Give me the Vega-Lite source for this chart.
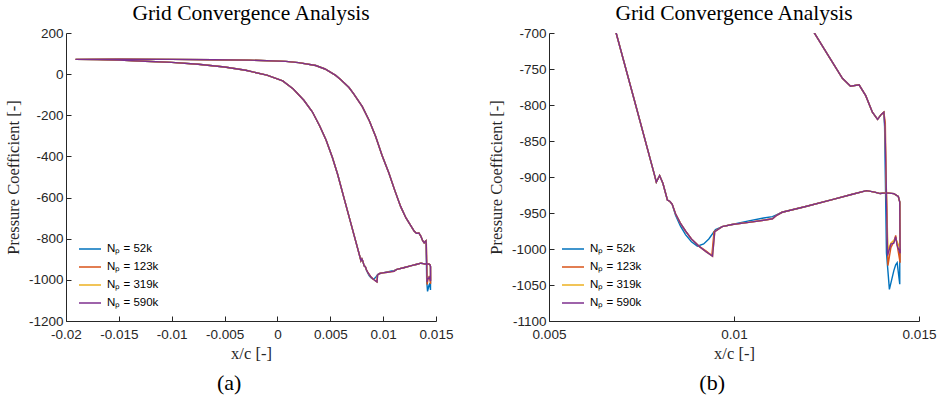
{
  "$schema": "https://vega.github.io/schema/vega-lite/v6.json",
  "background": "white",
  "padding": {"left": 5, "top": 2, "right": 5, "bottom": 5},
  "datasets": {
    "cp": [
      {"s":"Nₚ = 52k","i":1,"x":-0.0191,"y":72},{"s":"Nₚ = 52k","i":2,"x":-0.017,"y":70.5},{"s":"Nₚ = 52k","i":3,"x":-0.015,"y":68},{"s":"Nₚ = 52k","i":4,"x":-0.0125,"y":63},{"s":"Nₚ = 52k","i":5,"x":-0.01,"y":57},{"s":"Nₚ = 52k","i":6,"x":-0.0075,"y":48},{"s":"Nₚ = 52k","i":7,"x":-0.005,"y":35},{"s":"Nₚ = 52k","i":8,"x":-0.003,"y":19},{"s":"Nₚ = 52k","i":9,"x":-0.001,"y":-5},{"s":"Nₚ = 52k","i":10,"x":0.0005,"y":-33},
      {"s":"Nₚ = 52k","i":11,"x":0.0015,"y":-72},{"s":"Nₚ = 52k","i":12,"x":0.0025,"y":-127},{"s":"Nₚ = 52k","i":13,"x":0.0033,"y":-183},{"s":"Nₚ = 52k","i":14,"x":0.004,"y":-252},{"s":"Nₚ = 52k","i":15,"x":0.0046,"y":-320},{"s":"Nₚ = 52k","i":16,"x":0.0052,"y":-405},{"s":"Nₚ = 52k","i":17,"x":0.0057,"y":-488},{"s":"Nₚ = 52k","i":18,"x":0.0063,"y":-603},{"s":"Nₚ = 52k","i":19,"x":0.00682,"y":-701},{"s":"Nₚ = 52k","i":20,"x":0.0073,"y":-792},
      {"s":"Nₚ = 52k","i":21,"x":0.00784,"y":-895},{"s":"Nₚ = 52k","i":22,"x":0.0079,"y":-907},{"s":"Nₚ = 52k","i":23,"x":0.00799,"y":-898},{"s":"Nₚ = 52k","i":24,"x":0.00808,"y":-909},{"s":"Nₚ = 52k","i":25,"x":0.0082,"y":-932},{"s":"Nₚ = 52k","i":26,"x":0.00827,"y":-934},{"s":"Nₚ = 52k","i":27,"x":0.00833,"y":-938},{"s":"Nₚ = 52k","i":28,"x":0.00842,"y":-953},{"s":"Nₚ = 52k","i":29,"x":0.00855,"y":-968},{"s":"Nₚ = 52k","i":30,"x":0.00869,"y":-980},
      {"s":"Nₚ = 52k","i":31,"x":0.00885,"y":-990},{"s":"Nₚ = 52k","i":32,"x":0.00901,"y":-996},{"s":"Nₚ = 52k","i":33,"x":0.00918,"y":-993},{"s":"Nₚ = 52k","i":34,"x":0.00932,"y":-986},{"s":"Nₚ = 52k","i":35,"x":0.0095,"y":-973},{"s":"Nₚ = 52k","i":36,"x":0.00968,"y":-969},{"s":"Nₚ = 52k","i":37,"x":0.00995,"y":-966},{"s":"Nₚ = 52k","i":38,"x":0.0104,"y":-961},{"s":"Nₚ = 52k","i":39,"x":0.0108,"y":-957},{"s":"Nₚ = 52k","i":40,"x":0.01104,"y":-955},
      {"s":"Nₚ = 52k","i":41,"x":0.01113,"y":-953},{"s":"Nₚ = 52k","i":42,"x":0.0113,"y":-949},{"s":"Nₚ = 52k","i":43,"x":0.01194,"y":-941},{"s":"Nₚ = 52k","i":44,"x":0.01268,"y":-931},{"s":"Nₚ = 52k","i":45,"x":0.0132,"y":-924},{"s":"Nₚ = 52k","i":46,"x":0.01358,"y":-919},{"s":"Nₚ = 52k","i":47,"x":0.0138,"y":-921},{"s":"Nₚ = 52k","i":48,"x":0.01395,"y":-923},{"s":"Nₚ = 52k","i":49,"x":0.0141,"y":-922},{"s":"Nₚ = 52k","i":50,"x":0.01432,"y":-923},
      {"s":"Nₚ = 52k","i":51,"x":0.01444,"y":-927},{"s":"Nₚ = 52k","i":52,"x":0.01448,"y":-935},{"s":"Nₚ = 52k","i":53,"x":0.01448,"y":-1049},{"s":"Nₚ = 52k","i":54,"x":0.01441,"y":-1019},{"s":"Nₚ = 52k","i":55,"x":0.01437,"y":-1022},{"s":"Nₚ = 52k","i":56,"x":0.01432,"y":-1030},{"s":"Nₚ = 52k","i":57,"x":0.0142,"y":-1056},{"s":"Nₚ = 52k","i":58,"x":0.01412,"y":-1005},{"s":"Nₚ = 52k","i":59,"x":0.01409,"y":-900},{"s":"Nₚ = 52k","i":60,"x":0.01407,"y":-830},
      {"s":"Nₚ = 52k","i":61,"x":0.01405,"y":-810},{"s":"Nₚ = 52k","i":62,"x":0.01398,"y":-813},{"s":"Nₚ = 52k","i":63,"x":0.01388,"y":-820},{"s":"Nₚ = 52k","i":64,"x":0.01374,"y":-810},{"s":"Nₚ = 52k","i":65,"x":0.01356,"y":-787},{"s":"Nₚ = 52k","i":66,"x":0.01338,"y":-772},{"s":"Nₚ = 52k","i":67,"x":0.01315,"y":-774},{"s":"Nₚ = 52k","i":68,"x":0.01293,"y":-763},{"s":"Nₚ = 52k","i":69,"x":0.01257,"y":-733},{"s":"Nₚ = 52k","i":70,"x":0.01216,"y":-699},
      {"s":"Nₚ = 52k","i":71,"x":0.01166,"y":-644},{"s":"Nₚ = 52k","i":72,"x":0.0111,"y":-565},{"s":"Nₚ = 52k","i":73,"x":0.01055,"y":-482},{"s":"Nₚ = 52k","i":74,"x":0.0099,"y":-395},{"s":"Nₚ = 52k","i":75,"x":0.0093,"y":-304},{"s":"Nₚ = 52k","i":76,"x":0.0087,"y":-228},{"s":"Nₚ = 52k","i":77,"x":0.00803,"y":-158},{"s":"Nₚ = 52k","i":78,"x":0.0072,"y":-95},{"s":"Nₚ = 52k","i":79,"x":0.00677,"y":-65},{"s":"Nₚ = 52k","i":80,"x":0.006,"y":-27},
      {"s":"Nₚ = 52k","i":81,"x":0.00551,"y":-6},{"s":"Nₚ = 52k","i":82,"x":0.0045,"y":25},{"s":"Nₚ = 52k","i":83,"x":0.00362,"y":42},{"s":"Nₚ = 52k","i":84,"x":0.002,"y":56},{"s":"Nₚ = 52k","i":85,"x":0.0008,"y":62},{"s":"Nₚ = 52k","i":86,"x":-0.0027,"y":68},{"s":"Nₚ = 52k","i":87,"x":-0.006,"y":70},{"s":"Nₚ = 52k","i":88,"x":-0.01,"y":72},{"s":"Nₚ = 52k","i":89,"x":-0.015,"y":72.5},{"s":"Nₚ = 52k","i":90,"x":-0.0191,"y":72},

      {"s":"Nₚ = 123k","i":1,"x":-0.0191,"y":72},{"s":"Nₚ = 123k","i":2,"x":-0.017,"y":70.5},{"s":"Nₚ = 123k","i":3,"x":-0.015,"y":68},{"s":"Nₚ = 123k","i":4,"x":-0.0125,"y":63},{"s":"Nₚ = 123k","i":5,"x":-0.01,"y":57},{"s":"Nₚ = 123k","i":6,"x":-0.0075,"y":48},{"s":"Nₚ = 123k","i":7,"x":-0.005,"y":35},{"s":"Nₚ = 123k","i":8,"x":-0.003,"y":19},{"s":"Nₚ = 123k","i":9,"x":-0.001,"y":-5},{"s":"Nₚ = 123k","i":10,"x":0.0005,"y":-33},
      {"s":"Nₚ = 123k","i":11,"x":0.0015,"y":-72},{"s":"Nₚ = 123k","i":12,"x":0.0025,"y":-127},{"s":"Nₚ = 123k","i":13,"x":0.0033,"y":-183},{"s":"Nₚ = 123k","i":14,"x":0.004,"y":-252},{"s":"Nₚ = 123k","i":15,"x":0.0046,"y":-320},{"s":"Nₚ = 123k","i":16,"x":0.0052,"y":-405},{"s":"Nₚ = 123k","i":17,"x":0.0057,"y":-488},{"s":"Nₚ = 123k","i":18,"x":0.0063,"y":-603},{"s":"Nₚ = 123k","i":19,"x":0.00682,"y":-701},{"s":"Nₚ = 123k","i":20,"x":0.0073,"y":-792},
      {"s":"Nₚ = 123k","i":21,"x":0.00784,"y":-895},{"s":"Nₚ = 123k","i":22,"x":0.0079,"y":-907},{"s":"Nₚ = 123k","i":23,"x":0.00799,"y":-898},{"s":"Nₚ = 123k","i":24,"x":0.00808,"y":-909},{"s":"Nₚ = 123k","i":25,"x":0.0082,"y":-932},{"s":"Nₚ = 123k","i":26,"x":0.00827,"y":-934},{"s":"Nₚ = 123k","i":27,"x":0.00833,"y":-938},{"s":"Nₚ = 123k","i":28,"x":0.00842,"y":-951},{"s":"Nₚ = 123k","i":29,"x":0.00855,"y":-964},{"s":"Nₚ = 123k","i":30,"x":0.00869,"y":-975},
      {"s":"Nₚ = 123k","i":31,"x":0.00885,"y":-986},{"s":"Nₚ = 123k","i":32,"x":0.00905,"y":-996},{"s":"Nₚ = 123k","i":33,"x":0.00925,"y":-1003},{"s":"Nₚ = 123k","i":34,"x":0.0094,"y":-1009},{"s":"Nₚ = 123k","i":35,"x":0.00946,"y":-976},{"s":"Nₚ = 123k","i":36,"x":0.00968,"y":-969},{"s":"Nₚ = 123k","i":37,"x":0.00995,"y":-966},{"s":"Nₚ = 123k","i":38,"x":0.0104,"y":-963},{"s":"Nₚ = 123k","i":39,"x":0.0108,"y":-960},{"s":"Nₚ = 123k","i":40,"x":0.01104,"y":-958},
      {"s":"Nₚ = 123k","i":41,"x":0.01113,"y":-954},{"s":"Nₚ = 123k","i":42,"x":0.0113,"y":-949},{"s":"Nₚ = 123k","i":43,"x":0.01194,"y":-941},{"s":"Nₚ = 123k","i":44,"x":0.01268,"y":-931},{"s":"Nₚ = 123k","i":45,"x":0.0132,"y":-924},{"s":"Nₚ = 123k","i":46,"x":0.01358,"y":-919},{"s":"Nₚ = 123k","i":47,"x":0.0138,"y":-921},{"s":"Nₚ = 123k","i":48,"x":0.01395,"y":-923},{"s":"Nₚ = 123k","i":49,"x":0.0141,"y":-922},{"s":"Nₚ = 123k","i":50,"x":0.01432,"y":-923},
      {"s":"Nₚ = 123k","i":51,"x":0.01444,"y":-927},{"s":"Nₚ = 123k","i":52,"x":0.01448,"y":-935},{"s":"Nₚ = 123k","i":53,"x":0.01449,"y":-1019},{"s":"Nₚ = 123k","i":54,"x":0.01441,"y":-995},{"s":"Nₚ = 123k","i":55,"x":0.01437,"y":-981},{"s":"Nₚ = 123k","i":56,"x":0.01432,"y":-990},{"s":"Nₚ = 123k","i":57,"x":0.01424,"y":-998},{"s":"Nₚ = 123k","i":58,"x":0.01416,"y":-1023},{"s":"Nₚ = 123k","i":59,"x":0.01411,"y":-900},{"s":"Nₚ = 123k","i":60,"x":0.01409,"y":-825},
      {"s":"Nₚ = 123k","i":61,"x":0.01405,"y":-810},{"s":"Nₚ = 123k","i":62,"x":0.01398,"y":-813},{"s":"Nₚ = 123k","i":63,"x":0.01388,"y":-820},{"s":"Nₚ = 123k","i":64,"x":0.01374,"y":-810},{"s":"Nₚ = 123k","i":65,"x":0.01356,"y":-787},{"s":"Nₚ = 123k","i":66,"x":0.01338,"y":-772},{"s":"Nₚ = 123k","i":67,"x":0.01315,"y":-774},{"s":"Nₚ = 123k","i":68,"x":0.01293,"y":-763},{"s":"Nₚ = 123k","i":69,"x":0.01257,"y":-733},{"s":"Nₚ = 123k","i":70,"x":0.01216,"y":-699},
      {"s":"Nₚ = 123k","i":71,"x":0.01166,"y":-644},{"s":"Nₚ = 123k","i":72,"x":0.0111,"y":-565},{"s":"Nₚ = 123k","i":73,"x":0.01055,"y":-482},{"s":"Nₚ = 123k","i":74,"x":0.0099,"y":-395},{"s":"Nₚ = 123k","i":75,"x":0.0093,"y":-304},{"s":"Nₚ = 123k","i":76,"x":0.0087,"y":-228},{"s":"Nₚ = 123k","i":77,"x":0.00803,"y":-158},{"s":"Nₚ = 123k","i":78,"x":0.0072,"y":-95},{"s":"Nₚ = 123k","i":79,"x":0.00677,"y":-65},{"s":"Nₚ = 123k","i":80,"x":0.006,"y":-27},
      {"s":"Nₚ = 123k","i":81,"x":0.00551,"y":-6},{"s":"Nₚ = 123k","i":82,"x":0.0045,"y":25},{"s":"Nₚ = 123k","i":83,"x":0.00362,"y":42},{"s":"Nₚ = 123k","i":84,"x":0.002,"y":56},{"s":"Nₚ = 123k","i":85,"x":0.0008,"y":62},{"s":"Nₚ = 123k","i":86,"x":-0.0027,"y":68},{"s":"Nₚ = 123k","i":87,"x":-0.006,"y":70},{"s":"Nₚ = 123k","i":88,"x":-0.01,"y":72},{"s":"Nₚ = 123k","i":89,"x":-0.015,"y":72.5},{"s":"Nₚ = 123k","i":90,"x":-0.0191,"y":72},

      {"s":"Nₚ = 319k","i":1,"x":-0.0191,"y":72},{"s":"Nₚ = 319k","i":2,"x":-0.017,"y":70.5},{"s":"Nₚ = 319k","i":3,"x":-0.015,"y":68},{"s":"Nₚ = 319k","i":4,"x":-0.0125,"y":63},{"s":"Nₚ = 319k","i":5,"x":-0.01,"y":57},{"s":"Nₚ = 319k","i":6,"x":-0.0075,"y":48},{"s":"Nₚ = 319k","i":7,"x":-0.005,"y":35},{"s":"Nₚ = 319k","i":8,"x":-0.003,"y":19},{"s":"Nₚ = 319k","i":9,"x":-0.001,"y":-5},{"s":"Nₚ = 319k","i":10,"x":0.0005,"y":-33},
      {"s":"Nₚ = 319k","i":11,"x":0.0015,"y":-72},{"s":"Nₚ = 319k","i":12,"x":0.0025,"y":-127},{"s":"Nₚ = 319k","i":13,"x":0.0033,"y":-183},{"s":"Nₚ = 319k","i":14,"x":0.004,"y":-252},{"s":"Nₚ = 319k","i":15,"x":0.0046,"y":-320},{"s":"Nₚ = 319k","i":16,"x":0.0052,"y":-405},{"s":"Nₚ = 319k","i":17,"x":0.0057,"y":-488},{"s":"Nₚ = 319k","i":18,"x":0.0063,"y":-603},{"s":"Nₚ = 319k","i":19,"x":0.00682,"y":-701},{"s":"Nₚ = 319k","i":20,"x":0.0073,"y":-792},
      {"s":"Nₚ = 319k","i":21,"x":0.00784,"y":-895},{"s":"Nₚ = 319k","i":22,"x":0.0079,"y":-907},{"s":"Nₚ = 319k","i":23,"x":0.00799,"y":-898},{"s":"Nₚ = 319k","i":24,"x":0.00808,"y":-909},{"s":"Nₚ = 319k","i":25,"x":0.0082,"y":-932},{"s":"Nₚ = 319k","i":26,"x":0.00827,"y":-934},{"s":"Nₚ = 319k","i":27,"x":0.00833,"y":-938},{"s":"Nₚ = 319k","i":28,"x":0.00842,"y":-951},{"s":"Nₚ = 319k","i":29,"x":0.00855,"y":-964},{"s":"Nₚ = 319k","i":30,"x":0.00869,"y":-975},
      {"s":"Nₚ = 319k","i":31,"x":0.00885,"y":-986},{"s":"Nₚ = 319k","i":32,"x":0.00905,"y":-996},{"s":"Nₚ = 319k","i":33,"x":0.00925,"y":-1004},{"s":"Nₚ = 319k","i":34,"x":0.00942,"y":-1010},{"s":"Nₚ = 319k","i":35,"x":0.00948,"y":-976},{"s":"Nₚ = 319k","i":36,"x":0.00968,"y":-969},{"s":"Nₚ = 319k","i":37,"x":0.00995,"y":-966},{"s":"Nₚ = 319k","i":38,"x":0.0104,"y":-963},{"s":"Nₚ = 319k","i":39,"x":0.0108,"y":-960},{"s":"Nₚ = 319k","i":40,"x":0.01104,"y":-958},
      {"s":"Nₚ = 319k","i":41,"x":0.01113,"y":-954},{"s":"Nₚ = 319k","i":42,"x":0.0113,"y":-949},{"s":"Nₚ = 319k","i":43,"x":0.01194,"y":-941},{"s":"Nₚ = 319k","i":44,"x":0.01268,"y":-931},{"s":"Nₚ = 319k","i":45,"x":0.0132,"y":-924},{"s":"Nₚ = 319k","i":46,"x":0.01358,"y":-919},{"s":"Nₚ = 319k","i":47,"x":0.0138,"y":-921},{"s":"Nₚ = 319k","i":48,"x":0.01395,"y":-923},{"s":"Nₚ = 319k","i":49,"x":0.0141,"y":-922},{"s":"Nₚ = 319k","i":50,"x":0.01432,"y":-923},
      {"s":"Nₚ = 319k","i":51,"x":0.01444,"y":-927},{"s":"Nₚ = 319k","i":52,"x":0.01448,"y":-935},{"s":"Nₚ = 319k","i":53,"x":0.01449,"y":-1000},{"s":"Nₚ = 319k","i":54,"x":0.01441,"y":-990},{"s":"Nₚ = 319k","i":55,"x":0.01437,"y":-986},{"s":"Nₚ = 319k","i":56,"x":0.01432,"y":-988},{"s":"Nₚ = 319k","i":57,"x":0.01424,"y":-992},{"s":"Nₚ = 319k","i":58,"x":0.01416,"y":-1002},{"s":"Nₚ = 319k","i":59,"x":0.01411,"y":-900},{"s":"Nₚ = 319k","i":60,"x":0.01408,"y":-830},
      {"s":"Nₚ = 319k","i":61,"x":0.01405,"y":-810},{"s":"Nₚ = 319k","i":62,"x":0.01398,"y":-813},{"s":"Nₚ = 319k","i":63,"x":0.01388,"y":-820},{"s":"Nₚ = 319k","i":64,"x":0.01374,"y":-810},{"s":"Nₚ = 319k","i":65,"x":0.01356,"y":-787},{"s":"Nₚ = 319k","i":66,"x":0.01338,"y":-772},{"s":"Nₚ = 319k","i":67,"x":0.01315,"y":-774},{"s":"Nₚ = 319k","i":68,"x":0.01293,"y":-763},{"s":"Nₚ = 319k","i":69,"x":0.01257,"y":-733},{"s":"Nₚ = 319k","i":70,"x":0.01216,"y":-699},
      {"s":"Nₚ = 319k","i":71,"x":0.01166,"y":-644},{"s":"Nₚ = 319k","i":72,"x":0.0111,"y":-565},{"s":"Nₚ = 319k","i":73,"x":0.01055,"y":-482},{"s":"Nₚ = 319k","i":74,"x":0.0099,"y":-395},{"s":"Nₚ = 319k","i":75,"x":0.0093,"y":-304},{"s":"Nₚ = 319k","i":76,"x":0.0087,"y":-228},{"s":"Nₚ = 319k","i":77,"x":0.00803,"y":-158},{"s":"Nₚ = 319k","i":78,"x":0.0072,"y":-95},{"s":"Nₚ = 319k","i":79,"x":0.00677,"y":-65},{"s":"Nₚ = 319k","i":80,"x":0.006,"y":-27},
      {"s":"Nₚ = 319k","i":81,"x":0.00551,"y":-6},{"s":"Nₚ = 319k","i":82,"x":0.0045,"y":25},{"s":"Nₚ = 319k","i":83,"x":0.00362,"y":42},{"s":"Nₚ = 319k","i":84,"x":0.002,"y":56},{"s":"Nₚ = 319k","i":85,"x":0.0008,"y":62},{"s":"Nₚ = 319k","i":86,"x":-0.0027,"y":68},{"s":"Nₚ = 319k","i":87,"x":-0.006,"y":70},{"s":"Nₚ = 319k","i":88,"x":-0.01,"y":72},{"s":"Nₚ = 319k","i":89,"x":-0.015,"y":72.5},{"s":"Nₚ = 319k","i":90,"x":-0.0191,"y":72},

      {"s":"Nₚ = 590k","i":1,"x":-0.0191,"y":72},{"s":"Nₚ = 590k","i":2,"x":-0.017,"y":70.5},{"s":"Nₚ = 590k","i":3,"x":-0.015,"y":68},{"s":"Nₚ = 590k","i":4,"x":-0.0125,"y":63},{"s":"Nₚ = 590k","i":5,"x":-0.01,"y":57},{"s":"Nₚ = 590k","i":6,"x":-0.0075,"y":48},{"s":"Nₚ = 590k","i":7,"x":-0.005,"y":35},{"s":"Nₚ = 590k","i":8,"x":-0.003,"y":19},{"s":"Nₚ = 590k","i":9,"x":-0.001,"y":-5},{"s":"Nₚ = 590k","i":10,"x":0.0005,"y":-33},
      {"s":"Nₚ = 590k","i":11,"x":0.0015,"y":-72},{"s":"Nₚ = 590k","i":12,"x":0.0025,"y":-127},{"s":"Nₚ = 590k","i":13,"x":0.0033,"y":-183},{"s":"Nₚ = 590k","i":14,"x":0.004,"y":-252},{"s":"Nₚ = 590k","i":15,"x":0.0046,"y":-320},{"s":"Nₚ = 590k","i":16,"x":0.0052,"y":-405},{"s":"Nₚ = 590k","i":17,"x":0.0057,"y":-488},{"s":"Nₚ = 590k","i":18,"x":0.0063,"y":-603},{"s":"Nₚ = 590k","i":19,"x":0.00682,"y":-701},{"s":"Nₚ = 590k","i":20,"x":0.0073,"y":-792},
      {"s":"Nₚ = 590k","i":21,"x":0.00784,"y":-895},{"s":"Nₚ = 590k","i":22,"x":0.0079,"y":-907},{"s":"Nₚ = 590k","i":23,"x":0.00799,"y":-898},{"s":"Nₚ = 590k","i":24,"x":0.00808,"y":-909},{"s":"Nₚ = 590k","i":25,"x":0.0082,"y":-932},{"s":"Nₚ = 590k","i":26,"x":0.00827,"y":-934},{"s":"Nₚ = 590k","i":27,"x":0.00833,"y":-938},{"s":"Nₚ = 590k","i":28,"x":0.00842,"y":-951},{"s":"Nₚ = 590k","i":29,"x":0.00855,"y":-964},{"s":"Nₚ = 590k","i":30,"x":0.00869,"y":-975},
      {"s":"Nₚ = 590k","i":31,"x":0.00885,"y":-986},{"s":"Nₚ = 590k","i":32,"x":0.00905,"y":-996},{"s":"Nₚ = 590k","i":33,"x":0.00925,"y":-1004},{"s":"Nₚ = 590k","i":34,"x":0.00942,"y":-1010},{"s":"Nₚ = 590k","i":35,"x":0.00948,"y":-976},{"s":"Nₚ = 590k","i":36,"x":0.00968,"y":-969},{"s":"Nₚ = 590k","i":37,"x":0.00995,"y":-966},{"s":"Nₚ = 590k","i":38,"x":0.0104,"y":-963},{"s":"Nₚ = 590k","i":39,"x":0.0108,"y":-960},{"s":"Nₚ = 590k","i":40,"x":0.01104,"y":-958},
      {"s":"Nₚ = 590k","i":41,"x":0.01113,"y":-954},{"s":"Nₚ = 590k","i":42,"x":0.0113,"y":-949},{"s":"Nₚ = 590k","i":43,"x":0.01194,"y":-941},{"s":"Nₚ = 590k","i":44,"x":0.01268,"y":-931},{"s":"Nₚ = 590k","i":45,"x":0.0132,"y":-924},{"s":"Nₚ = 590k","i":46,"x":0.01358,"y":-919},{"s":"Nₚ = 590k","i":47,"x":0.0138,"y":-921},{"s":"Nₚ = 590k","i":48,"x":0.01395,"y":-923},{"s":"Nₚ = 590k","i":49,"x":0.0141,"y":-922},{"s":"Nₚ = 590k","i":50,"x":0.01432,"y":-923},
      {"s":"Nₚ = 590k","i":51,"x":0.01444,"y":-927},{"s":"Nₚ = 590k","i":52,"x":0.01448,"y":-935},{"s":"Nₚ = 590k","i":53,"x":0.01449,"y":-1006},{"s":"Nₚ = 590k","i":54,"x":0.01441,"y":-995},{"s":"Nₚ = 590k","i":55,"x":0.01437,"y":-983},{"s":"Nₚ = 590k","i":56,"x":0.01432,"y":-992},{"s":"Nₚ = 590k","i":57,"x":0.01424,"y":-993},{"s":"Nₚ = 590k","i":58,"x":0.01415,"y":-1009},{"s":"Nₚ = 590k","i":59,"x":0.01411,"y":-900},{"s":"Nₚ = 590k","i":60,"x":0.01408,"y":-830},
      {"s":"Nₚ = 590k","i":61,"x":0.01405,"y":-810},{"s":"Nₚ = 590k","i":62,"x":0.01398,"y":-813},{"s":"Nₚ = 590k","i":63,"x":0.01388,"y":-820},{"s":"Nₚ = 590k","i":64,"x":0.01374,"y":-810},{"s":"Nₚ = 590k","i":65,"x":0.01356,"y":-787},{"s":"Nₚ = 590k","i":66,"x":0.01338,"y":-772},{"s":"Nₚ = 590k","i":67,"x":0.01315,"y":-774},{"s":"Nₚ = 590k","i":68,"x":0.01293,"y":-763},{"s":"Nₚ = 590k","i":69,"x":0.01257,"y":-733},{"s":"Nₚ = 590k","i":70,"x":0.01216,"y":-699},
      {"s":"Nₚ = 590k","i":71,"x":0.01166,"y":-644},{"s":"Nₚ = 590k","i":72,"x":0.0111,"y":-565},{"s":"Nₚ = 590k","i":73,"x":0.01055,"y":-482},{"s":"Nₚ = 590k","i":74,"x":0.0099,"y":-395},{"s":"Nₚ = 590k","i":75,"x":0.0093,"y":-304},{"s":"Nₚ = 590k","i":76,"x":0.0087,"y":-228},{"s":"Nₚ = 590k","i":77,"x":0.00803,"y":-158},{"s":"Nₚ = 590k","i":78,"x":0.0072,"y":-95},{"s":"Nₚ = 590k","i":79,"x":0.00677,"y":-65},{"s":"Nₚ = 590k","i":80,"x":0.006,"y":-27},
      {"s":"Nₚ = 590k","i":81,"x":0.00551,"y":-6},{"s":"Nₚ = 590k","i":82,"x":0.0045,"y":25},{"s":"Nₚ = 590k","i":83,"x":0.00362,"y":42},{"s":"Nₚ = 590k","i":84,"x":0.002,"y":56},{"s":"Nₚ = 590k","i":85,"x":0.0008,"y":62},{"s":"Nₚ = 590k","i":86,"x":-0.0027,"y":68},{"s":"Nₚ = 590k","i":87,"x":-0.006,"y":70},{"s":"Nₚ = 590k","i":88,"x":-0.01,"y":72},{"s":"Nₚ = 590k","i":89,"x":-0.015,"y":72.5},{"s":"Nₚ = 590k","i":90,"x":-0.0191,"y":72}
    ]
  },
  "hconcat": [
    {
      "title": {"text": "(a)", "orient": "bottom", "anchor": "middle", "font": "Liberation Serif", "fontSize": 22, "fontWeight": "normal", "color": "black", "offset": 11},
      "resolve": {"scale": {"color": "independent"}, "legend": {"color": "independent"}},
      "vconcat": [
        {
          "width": 370,
          "height": 288,
          "title": {"text": "Grid Convergence Analysis", "anchor": "middle", "frame": "group", "font": "Liberation Serif", "fontSize": 21.5, "fontWeight": "normal", "color": "black", "offset": 2},
          "data": {"name": "cp"},
          "mark": {"type": "line", "strokeWidth": 1.4, "clip": true},
          "encoding": {
            "x": {"field": "x", "type": "quantitative", "scale": {"domain": [-0.02, 0.015], "nice": false, "zero": false},
                  "axis": {"title": "x/c [-]", "values": [-0.02, -0.015, -0.01, -0.005, 0, 0.005, 0.01, 0.015], "format": ".3~f"}},
            "y": {"field": "y", "type": "quantitative", "scale": {"domain": [-1200, 200], "nice": false, "zero": false},
                  "axis": {"title": "Pressure Coefficient [-]", "values": [-1200, -1000, -800, -600, -400, -200, 0, 200], "format": "d"}},
            "color": {"field": "s", "type": "nominal",
                      "scale": {"domain": ["Nₚ = 52k", "Nₚ = 123k", "Nₚ = 319k", "Nₚ = 590k"], "range": ["#0072BD", "#D95319", "#EDB120", "#7E2F8E"]},
                      "legend": {"title": null, "orient": "bottom-left", "offset": 12, "rowPadding": 0, "symbolSize": 484, "symbolType": "stroke", "symbolStrokeWidth": 1.5, "labelFontSize": 11.5, "labelLimit": 200}},
            "order": {"field": "i", "type": "quantitative"}
          }
        }
      ]
    },
    {
      "title": {"text": "(b)", "orient": "bottom", "anchor": "middle", "font": "Liberation Serif", "fontSize": 22, "fontWeight": "normal", "color": "black", "offset": 11},
      "resolve": {"scale": {"color": "independent"}, "legend": {"color": "independent"}},
      "vconcat": [
        {
          "width": 370,
          "height": 288,
          "title": {"text": "Grid Convergence Analysis", "anchor": "middle", "frame": "group", "font": "Liberation Serif", "fontSize": 21.5, "fontWeight": "normal", "color": "black", "offset": 2},
          "data": {"name": "cp"},
          "mark": {"type": "line", "strokeWidth": 1.4, "clip": true},
          "encoding": {
            "x": {"field": "x", "type": "quantitative", "scale": {"domain": [0.005, 0.015], "nice": false, "zero": false},
                  "axis": {"title": "x/c [-]", "values": [0.005, 0.01, 0.015], "format": ".3~f"}},
            "y": {"field": "y", "type": "quantitative", "scale": {"domain": [-1100, -700], "nice": false, "zero": false},
                  "axis": {"title": "Pressure Coefficient [-]", "values": [-1100, -1050, -1000, -950, -900, -850, -800, -750, -700], "format": "d"}},
            "color": {"field": "s", "type": "nominal",
                      "scale": {"domain": ["Nₚ = 52k", "Nₚ = 123k", "Nₚ = 319k", "Nₚ = 590k"], "range": ["#0072BD", "#D95319", "#EDB120", "#7E2F8E"]},
                      "legend": {"title": null, "orient": "bottom-left", "offset": 12, "rowPadding": 0, "symbolSize": 484, "symbolType": "stroke", "symbolStrokeWidth": 1.5, "labelFontSize": 11.5, "labelLimit": 200}},
            "order": {"field": "i", "type": "quantitative"}
          }
        }
      ]
    }
  ],
  "spacing": 35,
  "resolve": {"scale": {"color": "independent", "x": "independent", "y": "independent"}, "legend": {"color": "independent"}},
  "config": {
    "view": {"stroke": null},
    "locale": {"number": {"decimal": ".", "thousands": ",", "grouping": [3], "currency": ["$", ""], "minus": "-"}},
    "axis": {"grid": false, "labelFlush": false, "domainColor": "#262626", "tickColor": "#262626", "labelColor": "#262626", "labelFont": "Liberation Sans", "labelFontSize": 13.5, "titleFont": "Liberation Serif", "titleFontSize": 16.5, "titleFontWeight": "normal", "titleColor": "#262626", "tickSize": -5, "labelPadding": 8, "domainWidth": 1, "titlePadding": 7},
    "axisX": {"labelPadding": 11, "titlePadding": 5},
    "legend": {"labelFont": "Liberation Sans", "labelColor": "black", "labelOffset": 5}
  }
}
